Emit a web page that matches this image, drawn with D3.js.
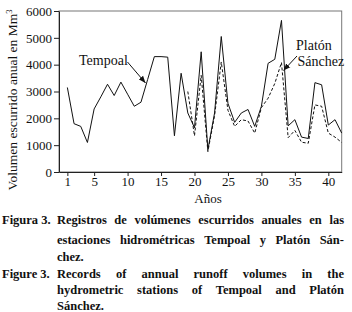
<!DOCTYPE html>
<html><head><meta charset="utf-8">
<script src="https://cdn.jsdelivr.net/npm/d3@7"></script>
<style>body{margin:0;background:#fff}svg{display:block}</style>
</head><body><svg id="c" width="352" height="312"></svg>
<script>
// ---- data ----
const years = d3.range(1, 43);
const tempoal = [3150,1800,1700,1100,2350,2800,3270,2850,3350,2900,2450,2600,3450,4300,4300,4280,1350,3680,2200,1650,4480,830,2200,5050,2560,1850,2200,2330,1700,2450,4050,4200,5650,1720,1950,1300,1250,3330,3250,1750,1950,1450];
const platonYears = d3.range(19, 43);
const platon = [3000,1350,3600,760,2100,4100,2300,1700,1950,1900,1450,2400,2750,3300,4080,1280,1550,1110,1070,2500,2450,1450,1300,1100];
const xTicks = [1,5,10,15,20,25,30,35,40];
const yTicks = [0,1000,2000,3000,4000,5000,6000];
const captionES = ["Figura 3.", "Registros de volúmenes escurridos anuales en las", "estaciones hidrométricas Tempoal y Platón Sán-", "chez."];
const captionEN = ["Figure 3.", "Records of annual runoff volumes in the", "hydrometric stations of Tempoal and Platón", "Sánchez."];

const FONT = "Liberation Serif, DejaVu Serif, serif";
const svg = d3.select("#c");
const L = 59, R = 341.7, T = 11, B = 172;
const x = d3.scaleLinear().domain([-0.25, 42]).range([L, R]);
const y = d3.scaleLinear().domain([0, 6000]).range([B, T]);

// frame
svg.append("rect").attr("x", L).attr("y", T).attr("width", R - L).attr("height", B - T)
  .attr("fill", "none").attr("stroke", "#777").attr("stroke-width", 1);

const gx = svg.append("g").attr("transform", `translate(0,${B})`)
  .call(d3.axisBottom(x).tickValues(xTicks).tickFormat(d3.format("d")).tickSize(4).tickPadding(1).tickSizeOuter(0));
const gy = svg.append("g").attr("transform", `translate(${L},0)`)
  .call(d3.axisLeft(y).tickValues(yTicks).tickFormat(d3.format("d")).tickSize(5).tickPadding(2).tickSizeOuter(0));
[gx, gy].forEach(g => {
  g.select(".domain").attr("stroke", "#222");
  g.selectAll(".tick line").attr("stroke", "#222");
  g.selectAll("text").attr("font-family", FONT).attr("font-size", 13).attr("fill", "#111");
});
gx.selectAll("text").attr("dy", "0.71em");

// lines
const line = d3.line().x(d => x(d[0])).y(d => y(d[1]));
svg.append("path").datum(years.map((yr, i) => [yr, tempoal[i]]))
  .attr("d", line).attr("fill", "none").attr("stroke", "#111").attr("stroke-width", 1);
svg.append("path").datum(platonYears.map((yr, i) => [yr, platon[i]]))
  .attr("d", line).attr("fill", "none").attr("stroke", "#111").attr("stroke-width", 1)
  .attr("stroke-dasharray", "3,2");

// arrow marker
svg.append("defs").append("marker").attr("id", "ah").attr("viewBox", "0 0 10 10")
  .attr("refX", 10).attr("refY", 5).attr("markerWidth", 7).attr("markerHeight", 7)
  .attr("orient", "auto").append("path").attr("d", "M0,1L10,5L0,9Z").attr("fill", "#111");

// annotations
const txt = (t, xx, yy, size, anchor) => svg.append("text").attr("x", xx).attr("y", yy)
  .attr("font-family", FONT).attr("font-size", size).attr("fill", "#111")
  .attr("text-anchor", anchor || "start").text(t);
txt("Tempoal", 79, 64.5, 14);
svg.append("line").attr("x1", 127.5).attr("y1", 62).attr("x2", 145.5).attr("y2", 83)
  .attr("stroke", "#111").attr("stroke-width", 1).attr("marker-end", "url(#ah)");
txt("Platón", 296, 50, 14);
txt("Sánchez", 297.5, 66, 14);
svg.append("line").attr("x1", 297).attr("y1", 56).attr("x2", 283.5).attr("y2", 70.5)
  .attr("stroke", "#111").attr("stroke-width", 1).attr("marker-end", "url(#ah)");

// axis titles
txt("Años", 208, 203, 13, "middle");
const yt = svg.append("text").attr("transform", "translate(17,100) rotate(-90)")
  .attr("text-anchor", "middle").attr("font-family", FONT).attr("font-size", 13.5).attr("fill", "#111");
yt.append("tspan").text("Volumen escurrido anual en Mm");
yt.append("tspan").attr("dy", -5).attr("font-size", 8.5).text("3");

// captions (justified)
function justifyLine(str, x0, x1, yy, justify) {
  const words = str.split(" ");
  const g = svg.append("g");
  const nodes = words.map(w => g.append("text").attr("y", yy).attr("font-family", FONT)
    .attr("font-size", 12.5).attr("font-weight", "bold").attr("fill", "#111").text(w));
  const widths = nodes.map(n => n.node().getComputedTextLength());
  const total = d3.sum(widths);
  const gap = (justify && words.length > 1) ? (x1 - x0 - total) / (words.length - 1) : 3.2;
  let cx = x0;
  nodes.forEach((n, i) => { n.attr("x", cx); cx += widths[i] + gap; });
}
const IND = 57, RE = 344;
svg.append("text").attr("x", 2).attr("y", 224).attr("font-family", FONT).attr("font-size", 12.5)
  .attr("font-weight", "bold").attr("fill", "#111").text(captionES[0]);
justifyLine(captionES[1], IND, RE, 224, true);
justifyLine(captionES[2], IND, RE, 244, true);
justifyLine(captionES[3], IND, RE, 260.5, false);
svg.append("text").attr("x", 2).attr("y", 277.5).attr("font-family", FONT).attr("font-size", 12.5)
  .attr("font-weight", "bold").attr("fill", "#111").text(captionEN[0]);
justifyLine(captionEN[1], IND, RE, 277.5, true);
justifyLine(captionEN[2], IND, RE, 294, true);
justifyLine(captionEN[3], IND, RE, 310, false);
</script></body></html>
